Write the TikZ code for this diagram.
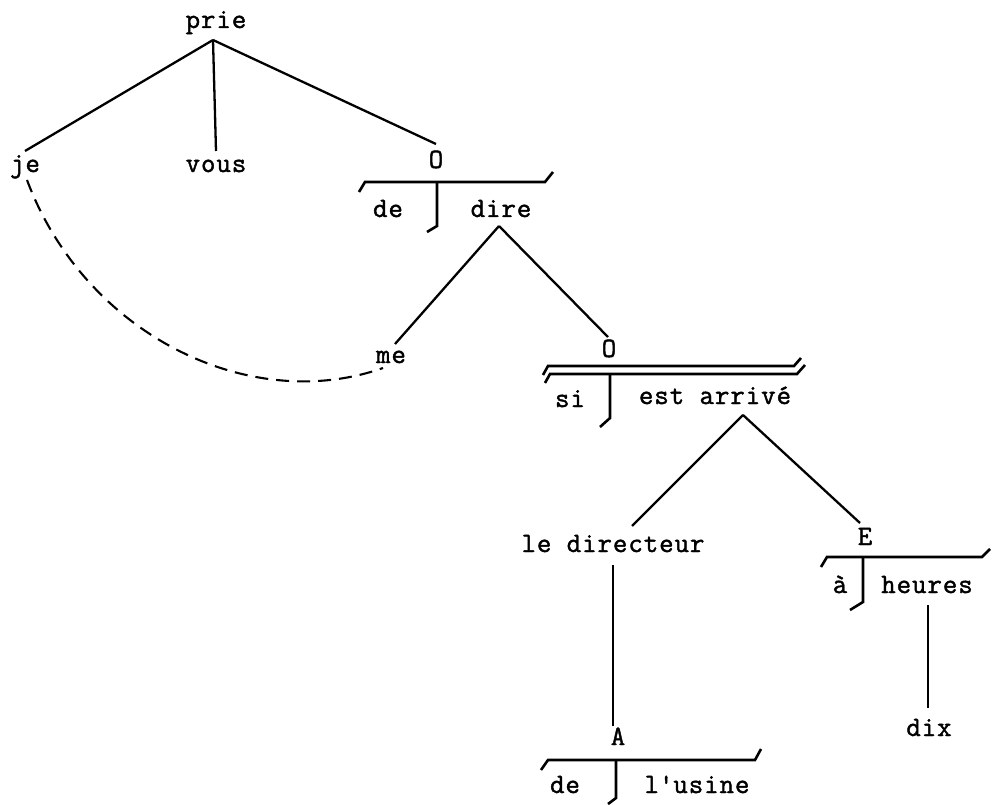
\documentclass[tikz,border=0pt]{standalone}
\usepackage{fontspec}
\setmonofont[LetterSpace=3.5,FakeBold=1.5]{Latin Modern Mono}
\newcommand{\tw}{\fontsize{28}{32}\selectfont\ttfamily}
\begin{document}
\begin{tikzpicture}[x=1pt,y=-1pt,
  w/.style={anchor=base,inner sep=0pt,font=\tw},
  edge/.style={line width=2.3pt},
  trans/.style={line width=2.6pt,line join=miter},
  link/.style={line width=2.1pt,dash pattern=on 13pt off 8pt}]
\useasboundingbox (0,0) rectangle (994,805);
% words
\node[w] (prie) at (216,28) {prie};
\node[w] (je) at (25,172) {je};
\node[w] (vous) at (216,172) {vous};
\node[w] (O1) at (436,168) {O};
\node[w] (de1) at (388,217) {de};
\node[w] (dire) at (501,217) {dire};
\node[w] (me) at (391,363) {me};
\node[w] (O2) at (609,357) {O};
\node[w] (si) at (570,407) {si};
\node[w] (ea) at (715,404) {est arrivé};
\node[w] (ld) at (613,552) {le directeur};
\node[w] (E) at (865,545) {E};
\node[w] (a) at (840,593) {à};
\node[w] (heures) at (927,593) {heures};
\node[w] (dix) at (929,736) {dix};
\node[w] (A) at (618,745) {A};
\node[w] (de2) at (565,793) {de};
\node[w] (usine) at (697,793) {l\textquotesingle usine};
% attachment points
\coordinate (prie-b) at (213,40);
\coordinate (je-t) at (25,151);
\coordinate (vous-t) at (216,151);
\coordinate (O1-t) at (436,144);
\coordinate (dire-b) at (499,226);
\coordinate (me-t) at (395,344);
\coordinate (O2-t) at (608,337);
\coordinate (ea-b) at (743,415);
\coordinate (ld-t) at (632,526);
\coordinate (E-t) at (860,523);
\coordinate (ld-b) at (613,565);
\coordinate (A-t) at (613,726);
\coordinate (heures-b) at (928,605);
\coordinate (dix-t) at (928,708);
\coordinate (je-b) at (27,180);
\coordinate (me-b) at (383,368);
% connectors
\draw[edge] (prie-b) -- (je-t);
\draw[edge] (prie-b) -- (vous-t);
\draw[edge] (prie-b) -- (O1-t);
\draw[edge] (dire-b) -- (me-t);
\draw[edge] (dire-b) -- (O2-t);
\draw[edge] (ea-b) -- (ld-t);
\draw[edge] (ea-b) -- (E-t);
\draw[edge] (ld-b) -- (A-t);
\draw[edge] (heures-b) -- (dix-t);
\draw[link] (je-b) .. controls (85,335) and (250,415) .. (me-b);
% translatives
\draw[trans] (359,192) -- (365,182) -- (545,182) -- (553,172);
\draw[trans] (437,182) -- (437,226) -- (427,232);
\draw[trans] (543,375) -- (548,366) -- (794,366) -- (801,358);
\draw[trans] (545,383) -- (550,374) -- (797,374) -- (805,365);
\draw[trans] (610,374) -- (610,418) -- (600,427);
\draw[trans] (821,567) -- (827,557) -- (982,557) -- (990,549);
\draw[trans] (863,557) -- (863,602) -- (850,610);
\draw[trans] (541,770) -- (548,760) -- (755,760) -- (761,749);
\draw[trans] (616,760) -- (616,798) -- (608,804);
\end{tikzpicture}
\end{document}
